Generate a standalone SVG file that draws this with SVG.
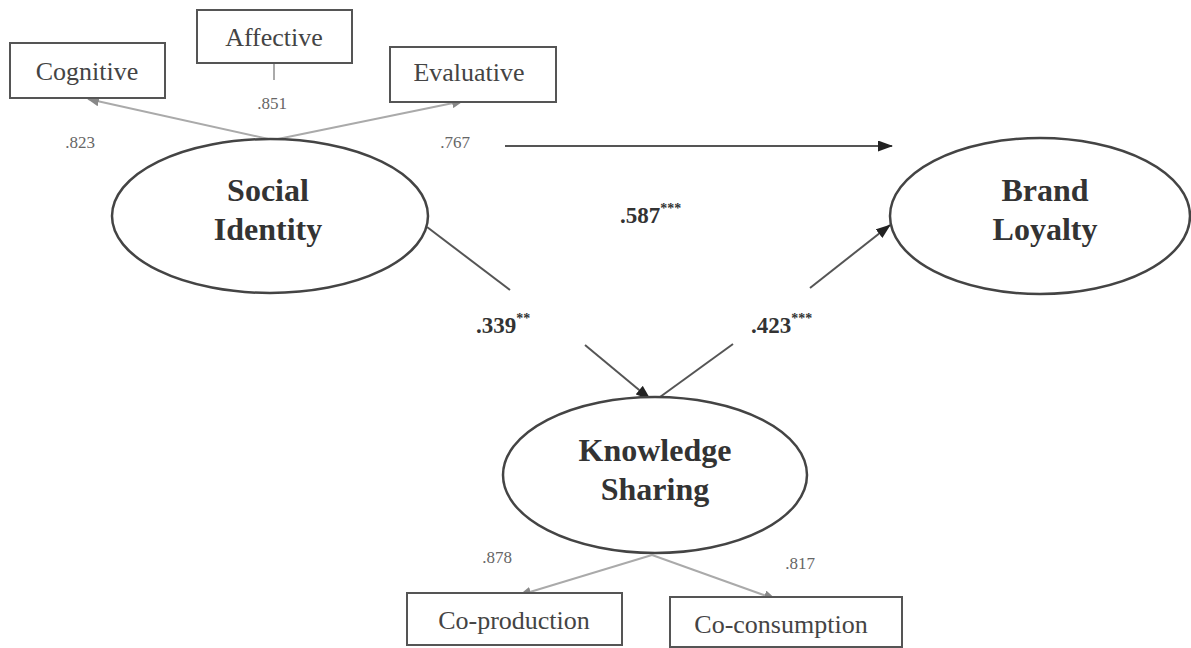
<svg xmlns="http://www.w3.org/2000/svg" width="1191" height="648" viewBox="0 0 1191 648">
<defs>
<style>
.box{fill:#fff;stroke:#555;stroke-width:2}
.ell{fill:#fff;stroke:#444;stroke-width:2.5}
.lbl{font-family:"Liberation Serif",serif;font-size:26px;fill:#444;text-anchor:middle}
.big{font-family:"Liberation Serif",serif;font-size:32px;font-weight:bold;fill:#333;text-anchor:middle}
.coef{font-family:"Liberation Serif",serif;font-size:17px;fill:#666;text-anchor:middle}
.path{font-family:"Liberation Serif",serif;font-size:23px;font-weight:bold;fill:#333}
.light{stroke:#aaa;stroke-width:2;fill:none}
.dark{stroke:#555;stroke-width:2;fill:none}
</style>
<marker id="ag" markerWidth="12" markerHeight="10" refX="11" refY="5" orient="auto" markerUnits="userSpaceOnUse"><path d="M0,0 L12,5 L0,10 Z" fill="#888"/></marker>
<marker id="ad" markerWidth="15" markerHeight="11" refX="14" refY="5.5" orient="auto" markerUnits="userSpaceOnUse"><path d="M0,0 L15,5.5 L0,11 Z" fill="#222"/></marker>
</defs>
<rect width="1191" height="648" fill="#fff"/>
<g id="connectors">
<line class="light" x1="274" y1="63" x2="274" y2="80"/>
<line class="light" x1="273" y1="140" x2="88" y2="99" marker-end="url(#ag)"/>
<line class="light" x1="273" y1="140" x2="463" y2="101" marker-end="url(#ag)"/>
<line class="dark" x1="505" y1="146" x2="892" y2="146" marker-end="url(#ad)"/>
<line class="dark" x1="427" y1="227" x2="510" y2="290"/>
<line class="dark" x1="585" y1="345" x2="650" y2="399" marker-end="url(#ad)"/>
<line class="dark" x1="660" y1="397" x2="733" y2="344"/>
<line class="dark" x1="810" y1="288" x2="890" y2="225" marker-end="url(#ad)"/>
<line class="light" x1="652" y1="555" x2="520" y2="595" marker-end="url(#ag)"/>
<line class="light" x1="652" y1="555" x2="775" y2="599" marker-end="url(#ag)"/>
</g>
<g id="cognitive"><rect class="box" x="10" y="43" width="155" height="55"/><text class="lbl" x="87" y="80">Cognitive</text></g>
<g id="affective"><rect class="box" x="197" y="10" width="155" height="53"/><text class="lbl" x="274" y="46">Affective</text></g>
<g id="evaluative"><rect class="box" x="390" y="47" width="166" height="55"/><text class="lbl" x="469" y="81">Evaluative</text></g>
<g id="social-identity"><ellipse class="ell" cx="270" cy="216" rx="158" ry="77"/><text class="big" x="268" y="201">Social</text><text class="big" x="268" y="240">Identity</text></g>
<g id="brand-loyalty"><ellipse class="ell" cx="1040" cy="216" rx="150" ry="78"/><text class="big" x="1045" y="201">Brand</text><text class="big" x="1045" y="240">Loyalty</text></g>
<g id="knowledge-sharing"><ellipse class="ell" cx="655" cy="475" rx="152" ry="78"/><text class="big" x="655" y="461">Knowledge</text><text class="big" x="655" y="500">Sharing</text></g>
<g id="co-production"><rect class="box" x="407" y="593" width="215" height="52"/><text class="lbl" x="514" y="629">Co-production</text></g>
<g id="co-consumption"><rect class="box" x="670" y="597" width="232" height="50"/><text class="lbl" x="781" y="633">Co-consumption</text></g>
<g id="labels">
<text class="coef" x="80" y="148">.823</text>
<text class="coef" x="272" y="109">.851</text>
<text class="coef" x="455" y="148">.767</text>
<text class="coef" x="497" y="563">.878</text>
<text class="coef" x="800" y="569">.817</text>
<text class="path" x="620" y="223">.587<tspan font-size="14" dy="-10">***</tspan></text>
<text class="path" x="476" y="333">.339<tspan font-size="14" dy="-10">**</tspan></text>
<text class="path" x="751" y="333">.423<tspan font-size="14" dy="-10">***</tspan></text>
</g>
</svg>
